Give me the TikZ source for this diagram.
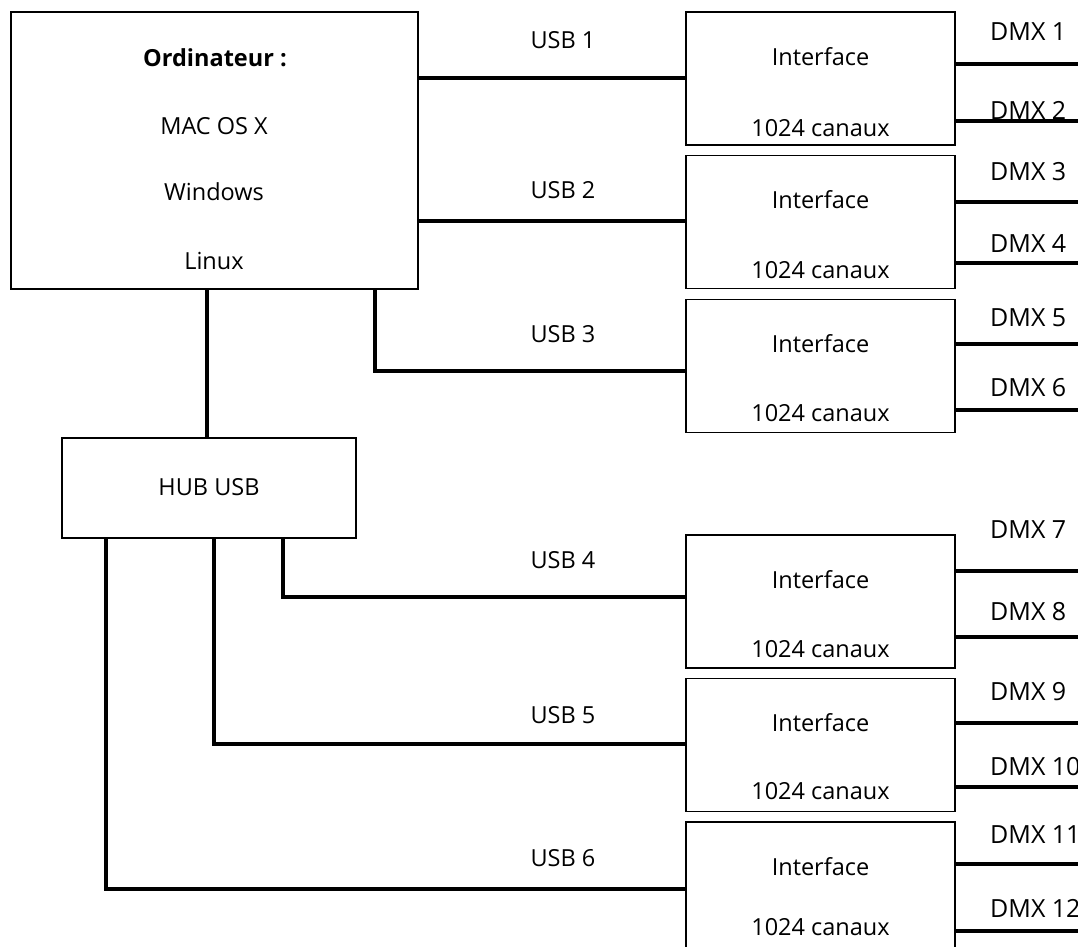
\documentclass[tikz,border=0pt]{standalone}
\usepackage{fontspec}
\setmainfont{Open Sans}
\begin{document}
\begin{tikzpicture}[x=1pt,y=-1pt,
  box/.style={draw,line width=1.8pt,inner sep=0pt},
  conn/.style={line width=3.5pt},
  txt/.style={inner sep=0pt,font=\fontsize{23.5}{26}\selectfont},
  ifbox/.style={box,minimum width=269pt,minimum height=133pt}]
\useasboundingbox (0,0) rectangle (1078,946);
\clip (0,0) rectangle (1078,946);
% computer
\node[box,minimum width=407pt,minimum height=277pt] (comp) at (214.5,150.5) {};
\node[txt,font=\fontsize{23.5}{26}\selectfont\bfseries] (t0) at (215,58) {Ordinateur :};
\node[txt] (t1) at (214,126) {MAC OS X};
\node[txt] (t2) at (214,192) {Windows};
\node[txt] (t3) at (214,261) {Linux};
% hub
\node[box,minimum width=294pt,minimum height=100pt] (hub) at (209,488) {};
\node[txt] (th) at (209,487) {HUB USB};
% interfaces
\foreach \i/\y/\by in {1/78.5/128,2/222/270,3/366/413,4/601.5/649,5/745/791,6/888.5/927}{
  \node[ifbox] (if\i) at (820.5,\y) {};
  \node[txt] (ia\i) at (820.5,\y-22) {Interface};
  \node[txt] (ib\i) at (820.5,\by) {1024 canaux};
}
% USB connectors
\coordinate (u1) at (0,78);
\coordinate (u2) at (0,221);
\coordinate (u3) at (375,371);
\coordinate (u4) at (283,597);
\coordinate (u5) at (214,744);
\coordinate (u6) at (106,889);
\draw[conn] (comp.east |- u1) -- (if1.west |- u1);
\draw[conn] (comp.east |- u2) -- (if2.west |- u2);
\draw[conn] (comp.south -| u3) -- (u3) -- (if3.west |- u3);
\draw[conn] (comp.south -| 207,0) -- (hub.north -| 207,0);
\draw[conn] (hub.south -| u4) -- (u4) -- (if4.west |- u4);
\draw[conn] (hub.south -| u5) -- (u5) -- (if5.west |- u5);
\draw[conn] (hub.south -| u6) -- (u6) -- (if6.west |- u6);
\node[txt] (l1) at (563,40) {USB 1};
\node[txt] (l2) at (563,190) {USB 2};
\node[txt] (l3) at (563,334) {USB 3};
\node[txt] (l4) at (563,560) {USB 4};
\node[txt] (l5) at (563,715) {USB 5};
\node[txt] (l6) at (563,858) {USB 6};
% DMX outputs
\foreach \n/\b/\ly/\ty in {1/1/64/32,2/1/121/110,3/2/202/172,4/2/263/244,5/3/344/318,6/3/410/388,7/4/571/530,8/4/637/612,9/5/723/692,10/5/787/767,11/6/864/835,12/6/931/908}{
  \coordinate (d\n) at (1078,\ly);
  \draw[conn] (if\b.east |- d\n) -- (d\n);
  \node[txt,anchor=west,font=\fontsize{25}{28}\selectfont] (dl\n) at (990,\ty) {DMX \n};
}
\end{tikzpicture}
\end{document}
